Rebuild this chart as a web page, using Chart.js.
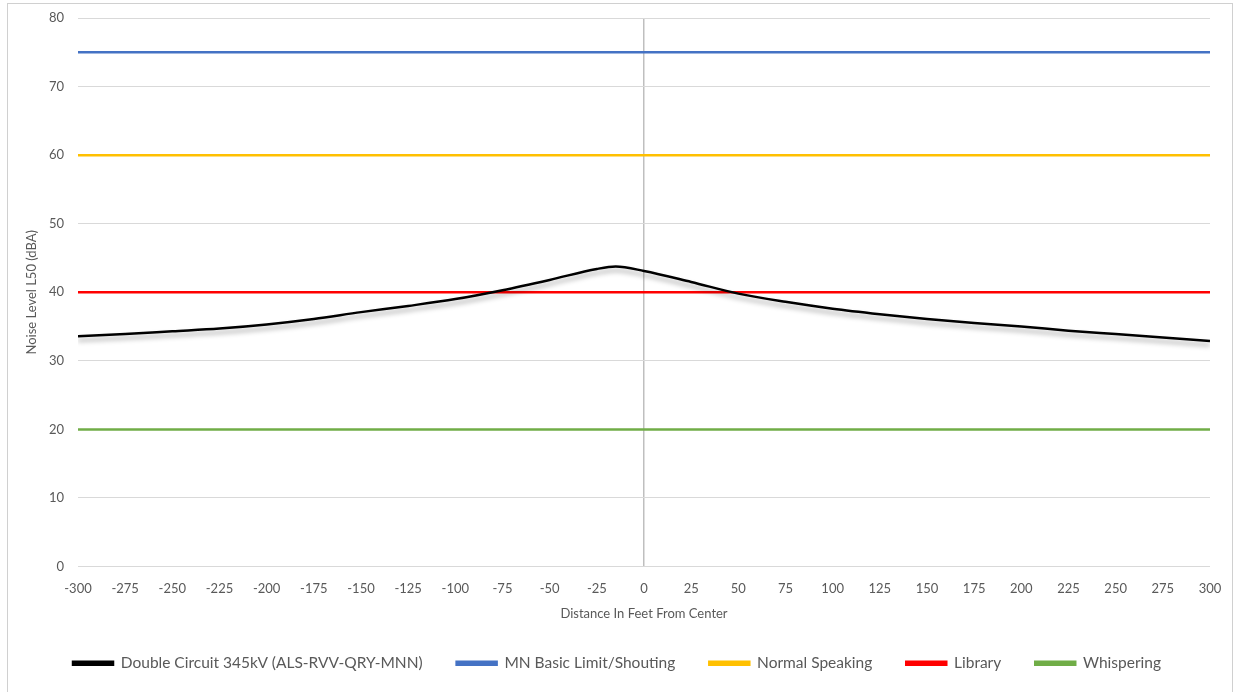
<!DOCTYPE html>
<html>
<head>
<meta charset="utf-8">
<script src="https://cdn.jsdelivr.net/npm/chart.js@4.4.1/dist/chart.umd.min.js"></script>
<style>
  html, body { margin: 0; padding: 0; background: #fff; }
  #wrap { position: absolute; left: 7px; top: 3px; width: 1226px; height: 700px; border: 1px solid #d0d0d0; box-sizing: border-box; }
  #chart { position: absolute; left: 0; top: 0; }
</style>
</head>
<body>
<div id="wrap"></div>
<canvas id="chart" width="1235" height="692"></canvas>
<script>
// Noise profile of the line (distance in feet, dBA)
const distances = [-300, -275, -250, -225, -200, -175, -150, -125, -100, -75, -50, -25, -15, 0, 25, 50, 75, 100, 125, 150, 175, 200, 225, 250, 275, 300];
const noiseLevels = [33.6, 33.9, 34.3, 34.7, 35.3, 36.1, 37.1, 38.0, 39.0, 40.3, 41.8, 43.4, 43.75, 43.1, 41.5, 39.8, 38.6, 37.6, 36.8, 36.1, 35.5, 35.0, 34.4, 33.9, 33.4, 32.9];

// reference levels
const refNames = ["MN Basic Limit/Shouting", "Normal Speaking", "Library", "Whispering"];
const refLevels = [75, 60, 40, 20];
const refColors = ["#4472C4", "#FFC000", "#FF0000", "#70AD47"];

const xTicks = [];
for (let v = -300; v <= 300; v += 25) xTicks.push(v);

const curveName = "Double Circuit 345kV (ALS-RVV-QRY-MNN)";

document.addEventListener("DOMContentLoaded", function() {
  const datasets = [{
    label: curveName,
    data: distances.map((d, i) => ({ x: d, y: noiseLevels[i] })),
    borderColor: "#000000",
    backgroundColor: "#000000",
    borderWidth: 2.5,
    pointRadius: 0,
    cubicInterpolationMode: "monotone",
    order: 0
  }];
  refNames.forEach((name, i) => {
    datasets.push({
      label: name,
      data: [{ x: -300, y: refLevels[i] }, { x: 300, y: refLevels[i] }],
      borderColor: refColors[i],
      backgroundColor: refColors[i],
      borderWidth: 2.5,
      pointRadius: 0,
      order: 1
    });
  });

  // soft shadow under the black curve
  const shadowPlugin = {
    id: "curveShadow",
    beforeDatasetDraw(chart, args) {
      if (args.index !== 0) return;
      const ctx = chart.ctx;
      ctx.save();
      ctx.shadowColor = "rgba(0,0,0,0.35)";
      ctx.shadowBlur = 5;
      ctx.shadowOffsetY = 4;
    },
    afterDatasetDraw(chart, args) {
      if (args.index !== 0) return;
      chart.ctx.restore();
    }
  };

  new Chart(document.getElementById("chart"), {
    type: "line",
    data: { datasets },
    plugins: [shadowPlugin],
    options: {
      responsive: false,
      animation: false,
      layout: { padding: { left: 24, top: 18, right: 25, bottom: 11 } },
      plugins: {
        legend: {
          position: "bottom",
          labels: {
            boxWidth: 40,
            boxHeight: 3,
            padding: 34,
            color: "#595959",
            font: { family: "Lato", size: 15.5 }
          }
        },
        tooltip: { enabled: false }
      },
      scales: {
        x: {
          type: "linear",
          min: -300,
          max: 300,
          afterBuildTicks: (scale) => { scale.ticks = xTicks.map(v => ({ value: v })); },
          border: { display: false },
          grid: {
            color: (c) => c.tick && c.tick.value === 0 ? "#bfbfbf" : "rgba(0,0,0,0)",
            lineWidth: 1.5,
            drawTicks: false
          },
          ticks: { color: "#595959", font: { family: "Lato", size: 13 }, padding: 15, maxRotation: 0, autoSkip: false },
          title: { display: true, text: "Distance In Feet From Center", color: "#595959", font: { family: "Lato", size: 13 }, padding: { top: 4, bottom: 0 } },
          afterFit: (scale) => { scale.height = 55; scale.paddingLeft = 0; scale.paddingRight = 0; }
        },
        y: {
          min: 0,
          max: 80,
          ticks: { stepSize: 10, color: "#595959", font: { family: "Lato", size: 13 }, padding: 14 },
          border: { display: false },
          grid: { color: "#d9d9d9", lineWidth: 1, drawTicks: false },
          title: { display: true, text: "Noise Level L50 (dBA)", color: "#595959", font: { family: "Lato", size: 13 }, padding: { top: 0, bottom: 4 } },
          afterFit: (scale) => { scale.width = 54; scale.paddingTop = 0; scale.paddingBottom = 0; }
        }
      }
    }
  });
});
</script>
</body>
</html>
